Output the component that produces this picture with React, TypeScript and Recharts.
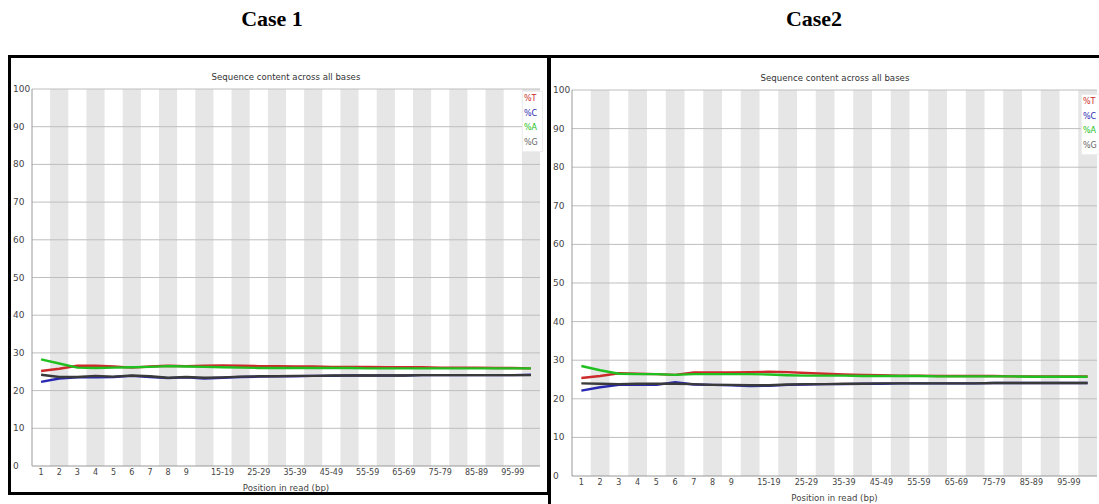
import React from 'react';
import { LineChart, Line, XAxis, YAxis, ReferenceArea, ReferenceLine, Label } from 'recharts';

const categories = ['1','2','3','4','5','6','7','8','9','10-14','15-19','20-24','25-29','30-34','35-39','40-44','45-49','50-54','55-59','60-64','65-69','70-74','75-79','80-84','85-89','90-94','95-99','100-101'];
const shownLabels = ['1','2','3','4','5','6','7','8','9','15-19','25-29','35-39','45-49','55-59','65-69','75-79','85-89','95-99'];
const yTicks = [0,10,20,30,40,50,60,70,80,90,100];

const case1T = [25.2,25.8,26.6,26.6,26.4,26.1,26.4,26.6,26.5,26.6,26.7,26.6,26.5,26.5,26.4,26.4,26.3,26.3,26.3,26.2,26.2,26.2,26.1,26.1,26.1,26.0,26.0,25.9];
const case1C = [22.3,23.2,23.5,23.5,23.6,23.9,23.6,23.3,23.5,23.2,23.4,23.6,23.7,23.8,23.8,23.9,23.9,24.0,24.0,24.0,24.0,24.1,24.1,24.1,24.1,24.1,24.1,24.2];
const case1A = [28.3,27.2,26.1,26.0,26.1,26.2,26.3,26.5,26.4,26.3,26.2,26.1,26.0,26.0,26.0,26.0,26.0,26.0,25.9,25.9,25.9,25.9,25.9,25.9,25.9,25.9,25.9,25.9];
const case1G = [24.2,23.6,23.6,23.9,23.7,24.0,23.8,23.4,23.6,23.4,23.5,23.7,23.8,23.8,23.9,23.9,24.0,24.0,24.0,24.0,24.0,24.1,24.1,24.1,24.1,24.1,24.1,24.1];

const case2T = [25.4,25.9,26.6,26.5,26.4,26.2,26.8,26.8,26.8,26.9,27.0,26.9,26.7,26.5,26.3,26.2,26.1,26.0,26.0,25.9,25.9,25.9,25.9,25.8,25.8,25.8,25.8,25.8];
const case2C = [22.1,23.0,23.6,23.7,23.6,24.3,23.7,23.6,23.5,23.3,23.4,23.6,23.7,23.8,23.8,23.9,23.9,24.0,24.0,24.0,24.0,24.0,24.1,24.1,24.1,24.1,24.1,24.1];
const case2A = [28.5,27.4,26.5,26.4,26.4,26.2,26.4,26.4,26.4,26.4,26.3,26.1,26.0,26.0,26.0,25.9,25.9,25.9,25.9,25.8,25.8,25.8,25.8,25.8,25.7,25.7,25.7,25.7];
const case2G = [24.0,23.9,23.8,23.9,23.9,23.9,23.8,23.6,23.6,23.5,23.5,23.7,23.8,23.8,23.9,23.9,24.0,24.0,24.0,24.0,24.0,24.0,24.1,24.1,24.1,24.1,24.1,24.1];

const seriesDefs = [
  { key: 'T', label: '%T', color: '#cc2a2a' },
  { key: 'C', label: '%C', color: '#2828b0' },
  { key: 'A', label: '%A', color: '#20c020' },
  { key: 'G', label: '%G', color: '#3a3a3a' },
];

function buildRows(t: number[], c: number[], a: number[], g: number[]) {
  return categories.map((cat, i) => ({ cat, T: t[i], C: c[i], A: a[i], G: g[i] }));
}

const rows1 = buildRows(case1T, case1C, case1A, case1G);
const rows2 = buildRows(case2T, case2C, case2A, case2G);

const SANS = '"DejaVu Sans", sans-serif';

const YTick = (p: any) => (
  <text x={Number(p.x) - 19} y={Number(p.y) + 3} fontSize={9} fill="#444" fontFamily={SANS} textAnchor="start">
    {p.payload.value}
  </text>
);

function Panel({ rows, width, height, margin }: { rows: any[]; width: number; height: number; margin: any }) {
  return (
    <LineChart width={width} height={height} data={rows} margin={margin}>
      <XAxis
        dataKey="cat"
        scale="band"
        interval={0}
        tickLine={false}
        tickSize={0}
        tickMargin={3}
        height={28}
        axisLine={{ stroke: '#999' }}
        tick={{ fontSize: 8, fill: '#444', fontFamily: SANS }}
        tickFormatter={(v: string) => (shownLabels.includes(v) ? v : '')}
      >
        <Label value="Position in read (bp)" position="insideBottom" offset={3} style={{ fontSize: 8.6, fill: '#444', fontFamily: SANS }} />
      </XAxis>
      <YAxis
        domain={[0, 100]}
        ticks={yTicks}
        width={22}
        tickLine={false}
        tickSize={0}
        tickMargin={0}
        axisLine={{ stroke: '#999' }}
        tick={<YTick />}
      />
      {categories.filter((_, i) => i % 2 === 1).map((c) => (
        <ReferenceArea key={c} x1={c} x2={c} y1={0} y2={100} fill="#e6e6e6" fillOpacity={1} stroke="none" ifOverflow="visible" />
      ))}
      {yTicks.filter((v) => v > 0).map((v) => (
        <ReferenceLine key={v} y={v} stroke="#bebebe" strokeWidth={1} />
      ))}
      {seriesDefs.map((s) => (
        <Line key={s.key} dataKey={s.key} stroke={s.color} strokeWidth={2.4} dot={false} isAnimationActive={false} type="linear" />
      ))}
    </LineChart>
  );
}

function LegendBox({ left, top }: { left: number; top: number }) {
  return (
    <div style={{ position: 'absolute', left, top, width: 18, background: '#fff', border: '1px solid #eee', fontFamily: SANS, fontSize: 8, lineHeight: '14.7px', paddingLeft: 1 }}>
      {seriesDefs.map((s) => (
        <div key={s.key} style={{ color: s.key === 'G' ? '#666' : s.color }}>{s.label}</div>
      ))}
    </div>
  );
}

export default function App() {
  return (
    <div style={{ position: 'absolute', left: 0, top: 0, width: 1099, height: 504, background: '#fff', overflow: 'hidden' }}>
      <div style={{ position: 'absolute', left: 172, top: 6, width: 200, textAlign: 'center', fontFamily: '"Liberation Serif", serif', fontWeight: 'bold', fontSize: 22 }}>Case 1</div>
      <div style={{ position: 'absolute', left: 714, top: 6, width: 200, textAlign: 'center', fontFamily: '"Liberation Serif", serif', fontWeight: 'bold', fontSize: 22 }}>Case2</div>

      <div style={{ position: 'absolute', left: 0, top: 0 }}>
        <Panel rows={rows1} width={549} height={494} margin={{ top: 89, right: 9, bottom: 0, left: 10 }} />
      </div>
      <div style={{ position: 'absolute', left: 550, top: 0 }}>
        <Panel rows={rows2} width={549} height={504} margin={{ top: 90, right: 2, bottom: 0, left: 0 }} />
      </div>

      <div style={{ position: 'absolute', left: 136, top: 72, width: 300, textAlign: 'center', fontFamily: SANS, fontSize: 8.6, color: '#333' }}>Sequence content across all bases</div>
      <div style={{ position: 'absolute', left: 685, top: 73, width: 300, textAlign: 'center', fontFamily: SANS, fontSize: 8.6, color: '#333' }}>Sequence content across all bases</div>

      <LegendBox left={522} top={91} />
      <LegendBox left={1081} top={94} />

      <div style={{ position: 'absolute', left: 8, top: 55, width: 542, height: 440, border: '3px solid #000', boxSizing: 'border-box' }} />
      <div style={{ position: 'absolute', left: 548, top: 55, width: 560, height: 460, borderLeft: '3px solid #000', borderTop: '3px solid #000', boxSizing: 'border-box' }} />
    </div>
  );
}
